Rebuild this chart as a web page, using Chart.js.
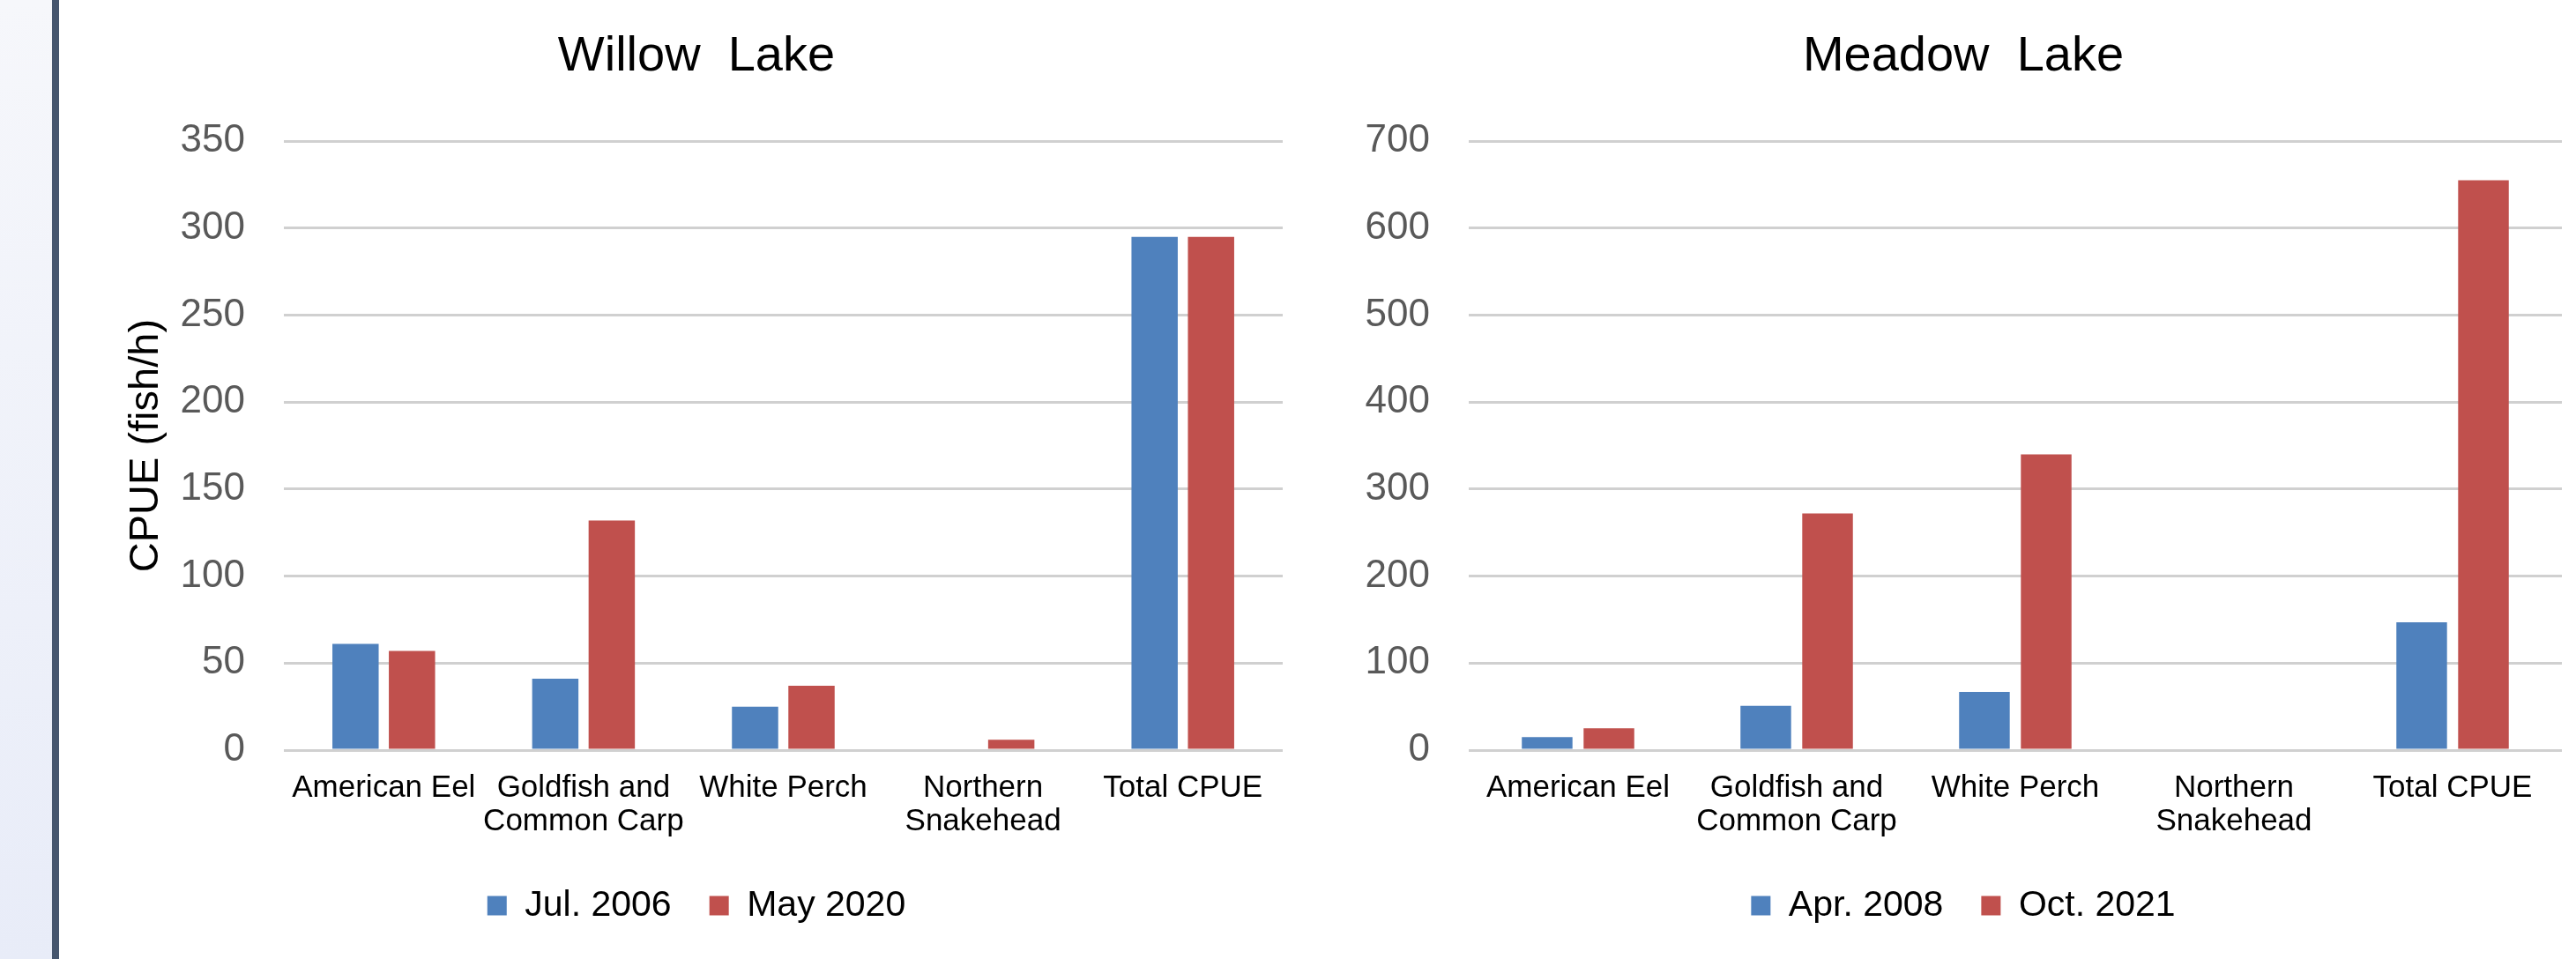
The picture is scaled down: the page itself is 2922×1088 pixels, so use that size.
<!DOCTYPE html>
<html>
<head>
<meta charset="utf-8">
<script src="https://cdn.jsdelivr.net/npm/chart.js@4.4.1/dist/chart.umd.min.js"></script>
<style>
  html, body { margin: 0; padding: 0; background: #fff; }
  body { width: 2922px; height: 1088px; position: relative; overflow: hidden; }
  #strip { position: absolute; left: 0; top: 0; width: 59px; height: 1088px;
           background: linear-gradient(#f6f7fb, #e8ecf8); }
  #rule { position: absolute; left: 59px; top: 0; width: 8px; height: 1088px; background: #46566e; }
  .box { position: absolute; top: 0; height: 1088px; }
  #leftBox { left: 67px; width: 1446px; }
  #rightBox { left: 1530px; width: 1392px; }
</style>
</head>
<body>
<div id="strip"></div>
<div id="rule"></div>
<div class="box" id="leftBox"><canvas id="willowChart"></canvas></div>
<div class="box" id="rightBox"><canvas id="meadowChart"></canvas></div>
<script>
// categories shared by both lakes
const species = ['American Eel', ['Goldfish and', 'Common Carp'], 'White Perch', ['Northern', 'Snakehead'], 'Total CPUE'];

// Willow Lake CPUE (fish/h)
const willowJul2006 = [61, 41, 25, 0, 295];
const willowMay2020 = [57, 132, 37, 6, 295];

// Meadow Lake CPUE (fish/h)
const meadowApr2008 = [15, 51, 67, 0, 147];
const meadowOct2021 = [25, 272, 340, 0, 655];

const blue = '#4F81BD';
const red = '#C0504D';
const font = 'Liberation Sans, Arial, sans-serif';

function makeChart(id, title, labels, seriesA, seriesB, yMax, yStep, pad, axisWidth, axisTitle) {
    const ctx = document.getElementById(id).getContext('2d');
    return new Chart(ctx, {
        type: 'bar',
        data: {
            labels: species,
            datasets: [
                { label: labels[0], data: seriesA, backgroundColor: blue },
                { label: labels[1], data: seriesB, backgroundColor: red }
            ]
        },
        options: {
            responsive: true,
            maintainAspectRatio: false,
            animation: false,
            categoryPercentage: 0.565,
            barPercentage: 0.82,
            layout: { padding: { left: pad[0], right: pad[1], top: 0, bottom: 30 } },
            plugins: {
                title: {
                    display: true,
                    text: title,
                    color: '#000',
                    font: { family: font, size: 56, weight: 'normal' },
                    padding: { top: 31, bottom: 62 }
                },
                legend: {
                    position: 'bottom',
                    labels: {
                        color: '#000',
                        font: { family: font, size: 41 },
                        boxWidth: 22,
                        boxHeight: 22,
                        padding: 43
                    }
                },
                tooltip: { enabled: false }
            },
            scales: {
                x: {
                    grid: { display: false },
                    border: { display: false },
                    ticks: {
                        color: '#000',
                        font: { family: font, size: 35, lineHeight: 1.1 },
                        padding: 16,
                        maxRotation: 0,
                        autoSkip: false
                    },
                    afterFit: function (scale) { scale.height = 113; }
                },
                y: {
                    min: 0,
                    max: yMax,
                    grid: { color: '#d0d0d0', lineWidth: 3, drawTicks: false },
                    border: { display: false },
                    ticks: {
                        stepSize: yStep,
                        color: '#595959',
                        font: { family: font, size: 44 },
                        padding: 44
                    },
                    title: {
                        display: !!axisTitle,
                        text: axisTitle,
                        color: '#000',
                        font: { family: font, size: 47 },
                        padding: { top: 13, bottom: 0 }
                    },
                    afterFit: function (scale) { scale.width = axisWidth; }
                }
            }
        }
    });
}

makeChart('willowChart', 'Willow  Lake', ['Jul. 2006', 'May 2020'], willowJul2006, willowMay2020, 350, 50, [58, 58], 197, 'CPUE (fish/h)');
makeChart('meadowChart', 'Meadow  Lake', ['Apr. 2008', 'Oct. 2021'], meadowApr2008, meadowOct2021, 700, 100, [18, 16], 118, '');
</script>
</body>
</html>
